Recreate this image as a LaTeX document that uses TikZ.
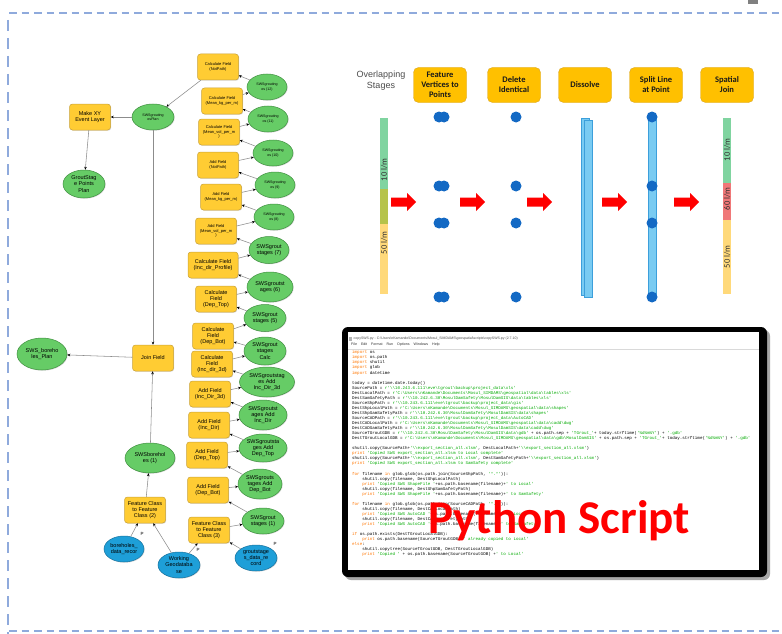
\documentclass[tikz,border=0pt]{standalone}
\usepackage{fontspec}
\setmainfont{Liberation Sans}
\setmonofont{Liberation Mono}
\newfontfamily\calib{Carlito}
\usetikzlibrary{shapes.geometric,arrows.meta,shadows}

\definecolor{tooly}{HTML}{FFCC33}
\definecolor{tooledge}{HTML}{C9A23A}
\definecolor{datag}{HTML}{66CC66}
\definecolor{dataedge}{HTML}{3F8F3F}
\definecolor{inb}{HTML}{1E9FD8}
\definecolor{inedge}{HTML}{17729E}
\definecolor{frameblue}{HTML}{8FAADC}
\definecolor{hdr}{HTML}{FFC000}
\definecolor{hdredge}{HTML}{D9A520}
\definecolor{ptblue}{HTML}{1369C4}
\definecolor{barblue}{HTML}{79CBF2}
\definecolor{baredge}{HTML}{3C9FDB}
\definecolor{stg}{HTML}{80D4A0}
\definecolor{sto}{HTML}{B5C34A}
\definecolor{sty}{HTML}{FFD97A}
\definecolor{str}{HTML}{F07878}
\definecolor{kwc}{HTML}{FF7700}
\definecolor{stc}{HTML}{00AA00}

\newcommand{\bs}{\textbackslash}
\newcommand{\kw}[1]{\textcolor{kwc}{#1}}
\newcommand{\st}[1]{\textcolor{stc}{#1}}
\newcommand{\ind}{\phantom{xxxx}}
% red block arrow starting at x = #1, centred on y = 202
\newcommand{\flowarrow}[1]{\fill[red] (#1,197.5) -- ++(16,0) -- ++(0,-4.5) -- ++(9,9) -- ++(-9,9) -- ++(0,-4.5) -- ++(-16,0) -- cycle;}

\tikzset{
  tool/.style={draw=tooledge, fill=tooly, line width=0.5pt, rounded corners=3pt,
    minimum width=41pt, minimum height=26pt, inner sep=0pt, align=center,
    font=\fontsize{5.5}{6.2}\selectfont,
    drop shadow={shadow xshift=0.7pt, shadow yshift=-0.7pt, opacity=0.3}},
  tinytool/.style={tool, font=\fontsize{4}{4.6}\selectfont},
  data/.style={ellipse, draw=dataedge, fill=datag, line width=0.5pt,
    minimum width=42pt, minimum height=27pt, inner sep=0pt, align=center,
    font=\fontsize{5.5}{6.2}\selectfont,
    drop shadow={shadow xshift=0.7pt, shadow yshift=-0.7pt, opacity=0.3}},
  tinydata/.style={data, font=\fontsize{3.6}{4.2}\selectfont, minimum width=40pt, minimum height=26pt},
  src/.style={data, draw=inedge, fill=inb},
  flow/.style={draw=black!45, line width=0.55pt, -{Stealth[length=3pt,width=2.6pt,black]}},
  plabel/.style={font=\fontsize{4.5}{5}\selectfont, inner sep=0pt},
  hdrbox/.style={draw=hdredge, fill=hdr, line width=0.4pt, rounded corners=5pt,
    minimum width=53pt, minimum height=35pt, inner sep=0pt, align=center,
    font=\calib\bfseries\fontsize{8.5}{10}\selectfont, text=black!90},
  ratelabel/.style={rotate=90, inner sep=0pt, font=\calib\fontsize{8.5}{9}\selectfont, text=black!80},
  frameline/.style={draw=frameblue, line width=2.2pt}
}

\begin{document}
\begin{tikzpicture}[x=1pt,y=-1pt]
\useasboundingbox (0,0) rectangle (782,634);
\fill[white] (0,0) rectangle (782,634);

% dashed page frame
\draw[frameline, dash pattern=on 7.5pt off 5pt] (9,13) -- (782,13);
\draw[frameline, line width=1.8pt, dash pattern=on 11pt off 7pt] (8,20) -- (8,634);
\draw[frameline, dash pattern=on 7.5pt off 5pt] (9,631) -- (782,631);
\fill[gray] (748,0) rectangle (758,4);

% ---------------- model (left) ----------------
\node[tinytool] (t1) at (218,67) {Calculate Field\\(NotPath)};
\node[tinydata] (e12) at (267,87) {SWSgrouting\\os (12)};
\node[tinytool] (t2) at (222,101) {Calculate Field\\(Mean\_kg\_per\_m)};
\node[tinydata] (e11) at (268,119) {SWSgrouting\\os (11)};
\node[tinytool] (t3) at (219,132) {Calculate Field\\(Mean\_vol\_per\_m\\)};
\node[tinydata] (e10) at (273,153) {SWSgrouting\\os (10)};
\node[tinytool] (t4) at (218,165) {Add Field\\(NotPath)};
\node[tinydata] (e9) at (275,185) {SWSgrouting\\os (9)};
\node[tinytool] (t5) at (221,197) {Add Field\\(Mean\_kg\_per\_m)};
\node[tinydata] (e8) at (274,217) {SWSgrouting\\os (8)};
\node[tinytool] (t6) at (216,231) {Add Field\\(Mean\_vol\_per\_m\\)};
\node[data, minimum width=40pt] (e7) at (269,250) {SWSgrout\\stages (7)};
\node[tool, minimum width=50pt] (t7) at (213,265) {Calculate Field\\(Inc\_dir\_Profile)};
\node[data, minimum width=46pt, minimum height=30pt] (e6) at (270,287) {SWSgroutst\\ages (6)};
\node[tool] (t8) at (216,299) {Calculate\\Field\\(Dep\_Top)};
\node[data] (e5) at (265,318) {SWSgrout\\stages (5)};
\node[tool] (t9) at (213,336) {Calculate\\Field\\(Dep\_Bot)};
\node[data, minimum height=28pt] (eCalc) at (265,351) {SWSgrout\\stages\\Calc};
\node[tool] (t10) at (212,364) {Calculate\\Field\\(Inc\_dir\_3d)};
\node[data, minimum width=55pt, minimum height=30pt] (eInc3d) at (267,382) {SWSgroutstag\\es Add\\Inc\_Dir\_3d};
\node[tool] (t11) at (210,394) {Add Field\\(Inc\_Dir\_3d)};
\node[data, minimum width=48pt, minimum height=30pt] (eInc) at (263,415) {SWSgroutst\\ages Add\\Inc\_Dir};
\node[tool] (t12) at (209,425) {Add Field\\(Inc\_Dir)};
\node[data, minimum width=48pt, minimum height=28pt] (eTop) at (263,448) {SWSgroutsta\\ges Add\\Dep\_Top};
\node[tool] (t13) at (207,455) {Add Field\\(Dep\_Top)};
\node[data, minimum width=44pt, minimum height=30pt] (eBot) at (260,484) {SWSgrouts\\tages Add\\Dep\_Bot};
\node[tool] (t14) at (208,490) {Add Field\\(Dep\_Bot)};
\node[data, minimum height=26pt] (e1) at (263,521) {SWSgrout\\stages (1)};
\node[tool] (t15) at (209,530) {Feature Class\\to Feature\\Class (3)};
\node[src, minimum height=26pt] (inGrout) at (256,558) {groutstage\\s\_data\_re\\cord};
\node[src, minimum height=26pt] (inWork) at (179,565) {Working\\Geodataba\\se};
\node[src, minimum width=40pt, minimum height=26pt] (inBore) at (124,549) {boreholes\_\\data\_recor};
\node[tool] (fc2) at (145,510) {Feature Class\\to Feature\\Class (2)};
\node[data, minimum width=50pt, minimum height=30pt] (eBore) at (150,458) {SWSborehol\\es (1)};
\node[tool] (join) at (153,358) {Join Field};
\node[data, minimum width=50pt, minimum height=32pt] (ePlan) at (42,354) {SWS\_boreho\\les\_Plan};
\node[tool] (makexy) at (90,117) {Make XY\\Event Layer};
\node[data, minimum height=28pt] (eGSP) at (84,184) {GroutStag\\e Points\\Plan};
\node[tinydata, minimum width=42pt] (eGrPlan) at (153,117) {SWSgrouting\\osPlan};

\node[plabel] (p1) at (142,534) {P};
\node[plabel] (p2) at (198,550) {P};
\node[plabel] (p3) at (275,544) {P};

\draw[flow] (t15) -- (e1);
\draw[flow] (e1) -- (t14);
\draw[flow] (t14) -- (eBot);
\draw[flow] (eBot) -- (t13);
\draw[flow] (t13) -- (eTop);
\draw[flow] (eTop) -- (t12);
\draw[flow] (t12) -- (eInc);
\draw[flow] (eInc) -- (t11);
\draw[flow] (t11) -- (eInc3d);
\draw[flow] (eInc3d) -- (t10);
\draw[flow] (t10) -- (eCalc);
\draw[flow] (eCalc) -- (t9);
\draw[flow] (t9) -- (e5);
\draw[flow] (e5) -- (t8);
\draw[flow] (t8) -- (e6);
\draw[flow] (e6) -- (t7);
\draw[flow] (t7) -- (e7);
\draw[flow] (e7) -- (t6);
\draw[flow] (t6) -- (e8);
\draw[flow] (e8) -- (t5);
\draw[flow] (t5) -- (e9);
\draw[flow] (e9) -- (t4);
\draw[flow] (t4) -- (e10);
\draw[flow] (e10) -- (t3);
\draw[flow] (t3) -- (e11);
\draw[flow] (e11) -- (t2);
\draw[flow] (t2) -- (e12);
\draw[flow] (e12) -- (t1);
\draw[flow] (t1) -- (eGrPlan);
\draw[flow] (eGrPlan) -- (makexy);
\draw[flow] (makexy) -- (eGSP);
\draw[flow] (eGrPlan) -- (join);
\draw[flow] (join) -- (ePlan);
\draw[flow] (eBore) -- (join);
\draw[flow] (fc2) -- (eBore);
\draw[flow] (inBore) -- (fc2);
\draw[flow] (inWork) -- (fc2);
\draw[flow] (inWork) -- (t15);
\draw[flow] (inGrout) -- (t15);

% ---------------- stage processing (top right) ----------------
\node[align=center, inner sep=0pt, font=\fontsize{9}{11}\selectfont, text=black!70] (ovl) at (381,81) {Overlapping\\Stages};
\node[hdrbox] (h1) at (440,85) {Feature\\Vertices to\\Points};
\node[hdrbox] (h2) at (514,85) {Delete\\Identical};
\node[hdrbox] (h3) at (585,85) {Dissolve};
\node[hdrbox] (h4) at (656,85) {Split Line\\at Point};
\node[hdrbox] (h5) at (727,85) {Spatial\\Join};

% overlapping stages bar
\fill[stg] (380,118) rectangle (388,189);
\fill[sto] (380,189) rectangle (388,224);
\fill[sty] (380,224) rectangle (388,294);
\node[ratelabel] (r1) at (384,170) {10 l/m};
\node[ratelabel] (r2) at (384,243) {50 l/m};

% vertices (doubled where stages overlap)
\foreach \yy in {117,186,223,297}{
  \fill[ptblue] (439,\yy) circle (5.5);
  \fill[ptblue] (444,\yy) circle (5.5);
  \fill[ptblue] (516,\yy) circle (5.5);
}

% dissolved line
\filldraw[fill=barblue, draw=baredge, line width=0.5pt] (581,118) rectangle (589,295);
\filldraw[fill=barblue, draw=baredge, line width=0.5pt] (584,120) rectangle (592,297);

% split line with points
\filldraw[fill=barblue, draw=baredge, line width=0.5pt] (648,118) rectangle (656,297);
\foreach \yy in {117,186,223,297}{
  \fill[ptblue] (652,\yy) circle (5.5);
}

% joined stages bar
\fill[stg] (723,118) rectangle (731,183);
\fill[str] (723,183) rectangle (731,220);
\fill[sty] (723,220) rectangle (731,294);
\node[ratelabel] (r3) at (727,150) {10 l/m};
\node[ratelabel] (r4) at (727,199) {60 l/m};
\node[ratelabel] (r5) at (727,257) {50 l/m};

\flowarrow{391}
\flowarrow{460}
\flowarrow{527}
\flowarrow{602}
\flowarrow{674}

% ---------------- script window (bottom right) ----------------
\fill[black!35, rounded corners=6pt] (345,330) rectangle (770,580);
\fill[black, rounded corners=6pt] (342,327) rectangle (767,577);
\fill[white] (348,332) rectangle (759,570);
\fill[black!15] (348,348.5) rectangle (759,350);
\fill[black!30] (349,336.8) rectangle (352,340.5);
\node[anchor=west, inner sep=0pt, font=\fontsize{3.5}{4}\selectfont, text=black!70] (ttl) at (353.5,338.8)
  {copySWS.py - C:\bs{}Users\bs{}nKamande\bs{}Documents\bs{}Mosul\_SIMDAMS\bs{}geospatial\bs{}scripts\bs{}copySWS.py (2.7.10)};
\node[anchor=west, inner sep=0pt, font=\fontsize{3.6}{4}\selectfont, text=black!80] (menu) at (351,345)
  {File\hspace{4pt}Edit\hspace{4pt}Format\hspace{4pt}Run\hspace{4pt}Options\hspace{4pt}Windows\hspace{4pt}Help};

\node[anchor=north west, inner sep=0pt, align=left, font=\ttfamily\fontsize{4.2}{5.05}\selectfont] (code) at (352,350.6) {%
\kw{import} os\\
\kw{import} os.path\\
\kw{import} shutil\\
\kw{import} glob\\
\kw{import} datetime\\[5.05pt]
today = datetime.date.today()\\
SourcePath = \st{r'\bs\bs{}10.243.6.111\bs{}eve\bs{}tgrout\bs{}backup\bs{}project\_data\bs{}xls'}\\
DestLocalPath = \st{r'C:\bs{}Users\bs{}nKamande\bs{}Documents\bs{}Mosul\_SIMDAMS\bs{}geospatial\bs{}data\bs{}tables\bs{}xls'}\\
DestSamSafetyPath = \st{r'\bs\bs{}10.242.6.30\bs{}MosulDamSafety\bs{}MosulDamSIS\bs{}data\bs{}tables\bs{}xls'}\\
SourceShpPath = \st{r'\bs\bs{}10.243.6.111\bs{}eve\bs{}tgrout\bs{}backup\bs{}project\_data\bs{}gis'}\\
DestShpLocalPath = \st{r'C:\bs{}Users\bs{}nKamande\bs{}Documents\bs{}Mosul\_SIMDAMS\bs{}geospatial\bs{}data\bs{}shapes'}\\
DestShpSamSafetyPath = \st{r'\bs\bs{}10.242.6.30\bs{}MosulDamSafety\bs{}MosulDamSIS\bs{}data\bs{}shapes'}\\
SourceCADPath = \st{r'\bs\bs{}10.243.6.111\bs{}eve\bs{}tgrout\bs{}backup\bs{}project\_data\bs{}AutoCAD'}\\
DestCADLocalPath = \st{r'C:\bs{}Users\bs{}nKamande\bs{}Documents\bs{}Mosul\_SIMDAMS\bs{}geospatial\bs{}data\bs{}cadd\bs{}dwg'}\\
DestCADSamSafetyPath = \st{r'\bs\bs{}10.242.6.30\bs{}MosulDamSafety\bs{}MosulDamSIS\bs{}data\bs{}cadd\bs{}dwg'}\\
SourceTGroutGDB = \st{r'\bs\bs{}10.242.6.30\bs{}MosulDamSafety\bs{}MosulDamSIS\bs{}data\bs{}gdb'} + os.path.sep + \st{'TGrout\_'}+ today.strftime(\st{'\%d\%m\%Y'}) + \st{'.gdb'}\\
DestTGroutLocalGDB = \st{r'C:\bs{}Users\bs{}nKamande\bs{}Documents\bs{}Mosul\_SIMDAMS\bs{}geospatial\bs{}data\bs{}gdb\bs{}MosulDamSIS'} + os.path.sep + \st{'TGrout\_'}+ today.strftime(\st{'\%d\%m\%Y'}) + \st{'.gdb'}\\[5.05pt]
shutil.copy(SourcePath+\st{'\bs\bs{}export\_section\_all.xlsm'}, DestLocalPath+\st{'\bs\bs{}export\_section\_all.xlsm'})\\
\kw{print} \st{'Copied SWS export\_section\_all.xlsm to Local complete'}\\
shutil.copy(SourcePath+\st{'\bs\bs{}export\_section\_all.xlsm'}, DestSamSafetyPath+\st{'\bs\bs{}export\_section\_all.xlsm'})\\
\kw{print} \st{'Copied SWS export\_section\_all.xlsm to SamSafety complete'}\\[5.05pt]
\kw{for} filename \kw{in} glob.glob(os.path.join(SourceShpPath, \st{'*.*'})):\\
\ind shutil.copy(filename, DestShpLocalPath)\\
\ind \kw{print} \st{'Copied SWS ShapeFile '}+os.path.basename(filename)+\st{' to Local'}\\
\ind shutil.copy(filename, DestShpSamSafetyPath)\\
\ind \kw{print} \st{'Copied SWS ShapeFile '}+os.path.basename(filename)+\st{' to SamSafety'}\\[5.05pt]
\kw{for} filename \kw{in} glob.glob(os.path.join(SourceCADPath, \st{'*.*'})):\\
\ind shutil.copy(filename, DestCADLocalPath)\\
\ind \kw{print} \st{'Copied SWS AutoCAD '}+os.path.basename(filename)+\st{' to Local'}\\
\ind shutil.copy(filename, DestCADSamSafetyPath)\\
\ind \kw{print} \st{'Copied SWS AutoCAD '}+os.path.basename(filename)+\st{' to SamSafety'}\\[5.05pt]
\kw{if} os.path.exists(DestTGroutLocalGDB):\\
\ind \kw{print} os.path.basename(SourceTGroutGDB)+\st{' already copied to Local'}\\
\kw{else}:\\
\ind shutil.copytree(SourceTGroutGDB, DestTGroutLocalGDB)\\
\ind \kw{print} \st{'Copied '} + os.path.basename(SourceTGroutGDB) +\st{' to Local'}};

\node[anchor=base, inner sep=0pt, font=\calib\bfseries\fontsize{47}{47}\selectfont, text=red] (py) at (559,533) {Python Script};

\end{tikzpicture}
\end{document}
